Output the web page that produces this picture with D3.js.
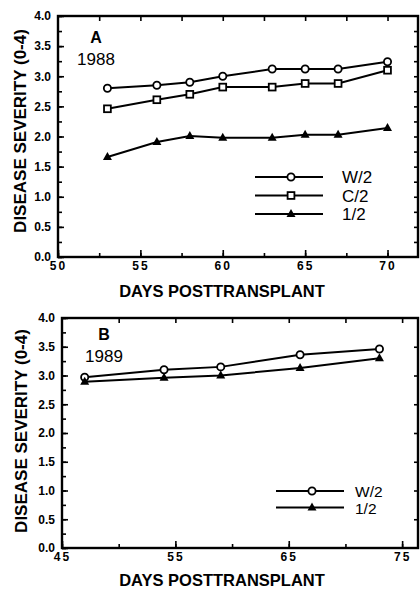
<!DOCTYPE html>
<html>
<head>
<meta charset="utf-8">
<script src="https://cdn.jsdelivr.net/npm/d3@7"></script>
<style>
  body { margin: 0; background: #fff; }
  svg { display: block; font-family: "Liberation Sans", Arial, sans-serif; }
  .tick text { font-weight: bold; font-size: 12px; fill: #000; }
  .domain { display: none; }
  .tick line { stroke: #000; stroke-width: 1.6; }
</style>
</head>
<body>
<div id="chart"></div>
<script>
// panel A, 1988
var daysA = [53, 56, 58, 60, 63, 65, 67, 70];
var w2A   = [2.80, 2.85, 2.90, 3.00, 3.12, 3.12, 3.12, 3.24];
var c2A   = [2.46, 2.61, 2.70, 2.82, 2.82, 2.88, 2.88, 3.10];
var halfA = [1.66, 1.91, 2.01, 1.98, 1.98, 2.03, 2.03, 2.14];
var xTicksA = [50, 55, 60, 65, 70];

// panel B, 1989
var daysB = [47, 54, 59, 66, 73];
var w2B   = [2.97, 3.10, 3.15, 3.36, 3.46];
var halfB = [2.89, 2.96, 3.00, 3.13, 3.30];
var xTicksB = [45, 55, 65, 75];

var yTicks = [0, 0.5, 1, 1.5, 2, 2.5, 3, 3.5, 4];

var svg = d3.select("#chart").append("svg")
  .attr("width", 420)
  .attr("height", 589);

function marker(g, type, x, y) {
  if (type == "circle") {
    g.append("circle").attr("cx", x).attr("cy", y).attr("r", 3.6)
      .attr("fill", "#fff").attr("stroke", "#000").attr("stroke-width", 1.8);
  } else if (type == "square") {
    g.append("rect").attr("x", x - 3.4).attr("y", y - 3.4).attr("width", 6.8).attr("height", 6.8)
      .attr("fill", "#fff").attr("stroke", "#000").attr("stroke-width", 1.8);
  } else {
    g.append("path")
      .attr("d", "M" + x + "," + (y - 5) + "L" + (x + 4.5) + "," + (y + 3) + "L" + (x - 4.5) + "," + (y + 3) + "Z")
      .attr("fill", "#000");
  }
}

function drawPanel(p) {
  var x = d3.scaleLinear().domain(p.xDomain).range([p.left, p.right]);
  var y = d3.scaleLinear().domain([0, 4]).range([p.bottom, p.top]);
  var g = svg.append("g");

  // minor ticks, all pointing in
  var quarter = d3.range(0, 4.01, 0.25);
  g.append("g").attr("transform", "translate(" + p.left + ",0)")
    .call(d3.axisLeft(y).tickValues(quarter).tickSize(-4).tickFormat(""));
  g.append("g").attr("transform", "translate(" + p.right + ",0)")
    .call(d3.axisRight(y).tickValues(p.rightTicks).tickSize(-4).tickFormat(""));
  var xMinor = d3.range(p.xDomain[0], p.xDomain[1], p.xMinorStep);
  g.append("g").attr("transform", "translate(0," + p.bottom + ")")
    .call(d3.axisBottom(x).tickValues(xMinor).tickSize(-4).tickFormat(""));
  g.append("g").attr("transform", "translate(0," + p.top + ")")
    .call(d3.axisTop(x).tickValues(xMinor.slice(1)).tickSize(-5).tickFormat(""));

  // labelled axes
  g.append("g").attr("transform", "translate(" + p.left + ",0)")
    .call(d3.axisLeft(y).tickValues(yTicks).tickSize(-6).tickPadding(7).tickFormat(d3.format(".1f")));
  g.append("g").attr("transform", "translate(0," + p.bottom + ")")
    .call(d3.axisBottom(x).tickValues(p.xTicks).tickSize(-7).tickPadding(4).tickFormat(d3.format("d")))
    .selectAll("text").attr("letter-spacing", "2px");

  // frame
  g.append("rect")
    .attr("x", p.left).attr("y", p.top)
    .attr("width", p.right - p.left).attr("height", p.bottom - p.top)
    .attr("fill", "none").attr("stroke", "#000").attr("stroke-width", 2.4);

  // series
  var line = d3.line().x(function (d) { return x(d[0]); }).y(function (d) { return y(d[1]); });
  p.series.forEach(function (s) {
    var pts = p.days.map(function (d, i) { return [d, s.values[i]]; });
    g.append("path").datum(pts).attr("d", line)
      .attr("fill", "none").attr("stroke", "#000").attr("stroke-width", 2);
    pts.forEach(function (d) { marker(g, s.type, x(d[0]), y(d[1])); });
  });

  // legend
  p.series.forEach(function (s, i) {
    var ly = p.legendY + i * p.legendGap;
    g.append("line").attr("x1", p.legendX).attr("x2", p.legendX + 68)
      .attr("y1", ly).attr("y2", ly).attr("stroke", "#000").attr("stroke-width", 2);
    marker(g, s.type, p.legendX + 36, ly);
    g.append("text").attr("x", p.legendX + p.legendTextDx).attr("y", ly + 6)
      .style("font-size", p.legendFont).text(s.name);
  });

  // panel letter and year
  g.append("text").attr("x", p.letterX).attr("y", p.letterY)
    .attr("text-anchor", "middle").style("font-size", "16px").style("font-weight", "bold").text(p.letter);
  g.append("text").attr("x", p.letterX).attr("y", p.letterY + 22)
    .attr("text-anchor", "middle").style("font-size", "17px").text(p.year);

  // axis titles
  g.append("text")
    .attr("transform", "translate(" + p.yTitleX + "," + p.yTitleY + ") rotate(-90)")
    .attr("text-anchor", "middle").style("font-size", "17px").style("font-weight", "bold")
    .text("DISEASE SEVERITY (0-4)");
  g.append("text").attr("x", 222).attr("y", p.xTitleY)
    .attr("text-anchor", "middle").style("font-size", "16.5px").style("font-weight", "bold")
    .text("DAYS POSTTRANSPLANT");
}

drawPanel({
  left: 58, right: 418, top: 16, bottom: 257,
  xDomain: [50, 71.85], xTicks: xTicksA, xMinorStep: 2.5,
  rightTicks: d3.range(0.25, 4, 0.25),
  days: daysA,
  series: [
    { name: "W/2", type: "circle", values: w2A },
    { name: "C/2", type: "square", values: c2A },
    { name: "1/2", type: "triangle", values: halfA }
  ],
  legendX: 255, legendY: 177, legendGap: 18.5, legendTextDx: 87, legendFont: "17px",
  letter: "A", year: "1988", letterX: 96, letterY: 43,
  yTitleX: 26, yTitleY: 131, xTitleY: 297
});

drawPanel({
  left: 62, right: 418, top: 318, bottom: 548,
  xDomain: [45, 76.4], xTicks: xTicksB, xMinorStep: 5,
  rightTicks: [0.5, 1, 1.5, 2, 2.5, 3, 3.5],
  days: daysB,
  series: [
    { name: "W/2", type: "circle", values: w2B },
    { name: "1/2", type: "triangle", values: halfB }
  ],
  legendX: 276, legendY: 491, legendGap: 16.5, legendTextDx: 79, legendFont: "15.5px",
  letter: "B", year: "1989", letterX: 104, letterY: 340,
  yTitleX: 27, yTitleY: 431, xTitleY: 586
});
</script>
</body>
</html>
